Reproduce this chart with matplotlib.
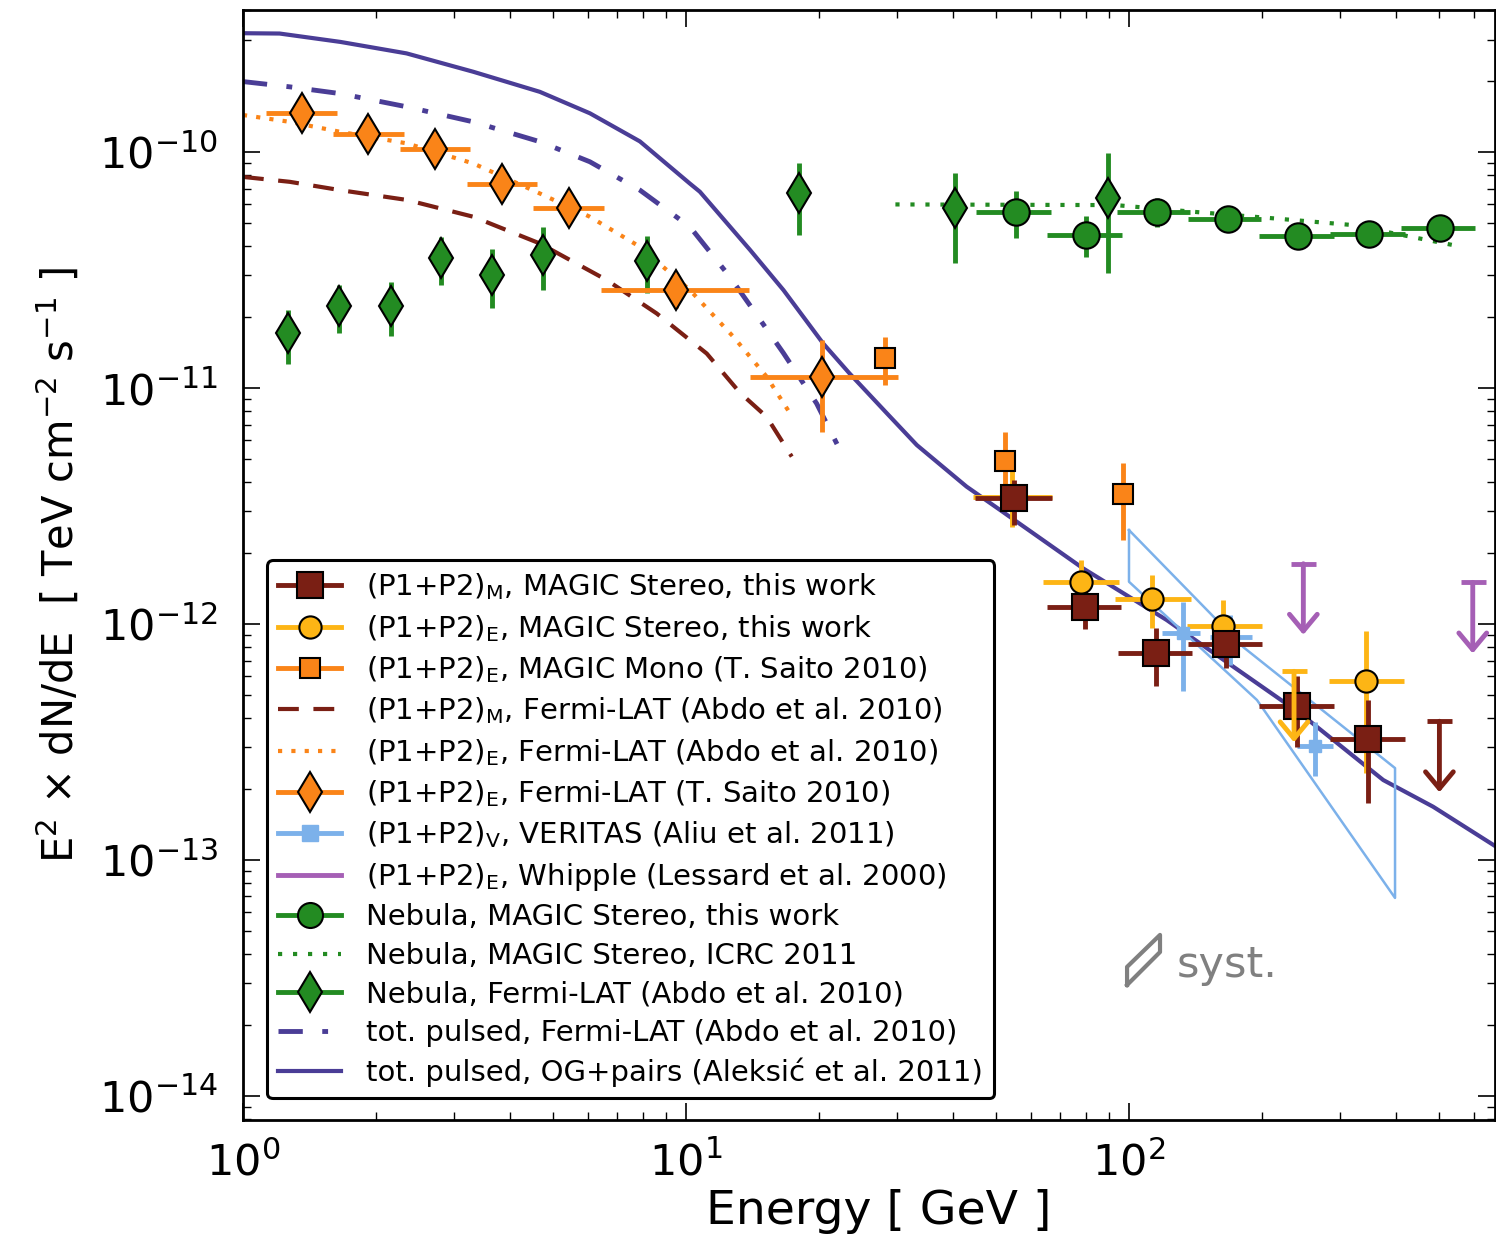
import numpy as np
import matplotlib.pyplot as plt
from matplotlib.lines import Line2D

# kolory
MAROON = '#7a1f14'
YELLOW = '#fdb515'
ORANGE = '#fa8418'
LBLUE = '#7cb1ea'
PURPLE = '#a55fb5'
GREEN = '#238b22'
NAVY = '#4a3d96'
GRAY = '#808080'

# (P1+P2)_M, MAGIC Stereo
m_e = [55.0, 79.6, 115.0, 166.0, 240.0, 347.0]
m_f = [3.42e-12, 1.18e-12, 7.5e-13, 8.2e-13, 4.5e-13, 3.24e-13]
m_elo = [44.9, 65.2, 94.3, 136.0, 196.6, 284.0]
m_ehi = [67.0, 95.8, 138.5, 200.0, 290.0, 420.0]
m_flo = [2.63e-12, 9.5e-13, 5.46e-13, 6.52e-13, 3.0e-13, 1.74e-13]
m_fhi = [4.07e-12, 1.39e-12, 9.6e-13, 9.84e-13, 6.03e-13, 4.77e-13]
m_ul_e = [502.0]
m_ul_f = [3.87e-13]

# (P1+P2)_E, MAGIC Stereo
s_e = [54.5, 77.8, 112.9, 163.3, 342.0]
s_f = [3.45e-12, 1.51e-12, 1.28e-12, 9.85e-13, 5.73e-13]
s_elo = [44.5, 64.0, 93.0, 135.0, 283.0]
s_ehi = [67.0, 95.0, 137.8, 199.4, 418.0]
s_flo = [2.58e-12, 1.26e-12, 9.6e-13, 7.76e-13, 2.33e-13]
s_fhi = [4.5e-12, 1.87e-12, 1.61e-12, 1.26e-12, 9.3e-13]
s_ul_e = [235.8]
s_ul_f = [6.3e-13]

# (P1+P2)_E, MAGIC Mono
mono_e = [28.1, 52.5, 96.9]
mono_f = [1.34e-11, 4.9e-12, 3.56e-12]
mono_flo = [1.03e-11, 3.35e-12, 2.27e-12]
mono_fhi = [1.64e-11, 6.5e-12, 4.8e-12]

# (P1+P2)_E, Fermi-LAT (T. Saito)
fs_e = [1.357, 1.918, 2.713, 3.85, 5.44, 9.48, 20.3]
fs_f = [1.47e-10, 1.19e-10, 1.03e-10, 7.3e-11, 5.81e-11, 2.6e-11, 1.11e-11]
fs_elo = [1.127, 1.60, 2.26, 3.20, 4.52, 6.42, 13.95]
fs_ehi = [1.627, 2.31, 3.26, 4.62, 6.54, 13.9, 30.1]
fs_flo = [1.40e-10, 1.13e-10, 0.98e-10, 6.9e-11, 5.5e-11, 2.18e-11, 6.5e-12]
fs_fhi = [1.54e-10, 1.25e-10, 1.08e-10, 7.7e-11, 6.1e-11, 2.9e-11, 1.6e-11]

# (P1+P2)_V, VERITAS
v_e = [132.6, 169.0, 263.0]
v_f = [9.14e-13, 8.83e-13, 3.04e-13]
v_elo = [118.6, 152.4, 239.0]
v_ehi = [144.6, 189.2, 289.0]
v_flo = [5.22e-13, 6.7e-13, 2.27e-13]
v_fhi = [1.243e-12, 1.09e-12, 3.85e-13]
# motyl VERITAS
vb_up_e = [100.0, 180.8, 398.6]
vb_up_f = [2.50e-12, 8.0e-13, 2.45e-13]
vb_lo_e = [100.0, 194.5, 398.6]
vb_lo_f = [1.51e-12, 4.76e-13, 6.9e-14]

# Whipple - gorne limity
w_ul_e = [247.5, 597.0]
w_ul_f = [1.8e-12, 1.5e-12]

# Nebula, MAGIC Stereo
n_e = [55.5, 80.1, 115.7, 167.0, 241.3, 348.4, 503.6]
n_f = [5.58e-11, 4.45e-11, 5.58e-11, 5.19e-11, 4.41e-11, 4.48e-11, 4.78e-11]
n_elo = [45.2, 65.3, 94.2, 136.2, 196.6, 284.2, 410.3]
n_ehi = [66.7, 96.2, 137.6, 198.6, 290.0, 418.8, 604.0]
n_flo = [4.31e-11, 3.6e-11, 4.83e-11, 4.67e-11, 3.91e-11, 3.97e-11, 4.31e-11]
n_fhi = [6.86e-11, 5.36e-11, 6.37e-11, 5.67e-11, 4.83e-11, 5.02e-11, 5.32e-11]

# Nebula, MAGIC Stereo ICRC 2011
icrc_e = [29.7, 93.4, 140.4, 211.4, 318.0, 431.8, 563.0]
icrc_f = [6.0e-11, 5.96e-11, 5.58e-11, 5.24e-11, 4.91e-11, 4.38e-11, 3.97e-11]

# Nebula, Fermi-LAT
nf_e = [1.266, 1.65, 2.155, 2.80, 3.65, 4.75, 8.15, 18.0, 40.4, 89.6]
nf_f = [1.71e-11, 2.23e-11, 2.23e-11, 3.56e-11, 3.0e-11, 3.68e-11, 3.47e-11, 6.68e-11, 5.77e-11, 6.40e-11]
nf_flo = [1.27e-11, 1.71e-11, 1.66e-11, 2.73e-11, 2.18e-11, 2.6e-11, 2.52e-11, 4.45e-11, 3.38e-11, 3.06e-11]
nf_fhi = [2.14e-11, 2.73e-11, 2.82e-11, 4.38e-11, 3.87e-11, 4.83e-11, 4.42e-11, 8.95e-11, 8.17e-11, 9.93e-11]

# krzywe Fermi-LAT (Abdo et al. 2010)
fm_e = [1.0, 1.276, 1.656, 2.342, 3.311, 4.677, 6.62, 8.59, 11.14, 13.24, 15.21, 17.33]
fm_f = [7.85e-11, 7.48e-11, 6.9e-11, 6.27e-11, 5.32e-11, 4.1e-11, 2.87e-11, 2.07e-11, 1.40e-11, 9.55e-12, 7.55e-12, 5.12e-12]
fe_e = [1.0, 1.276, 1.656, 2.342, 3.311, 4.677, 6.067, 7.87, 10.21, 12.79, 15.21, 17.17]
fe_f = [1.436e-10, 1.343e-10, 1.219e-10, 1.089e-10, 8.95e-11, 6.68e-11, 5.32e-11, 3.97e-11, 2.6e-11, 1.65e-11, 1.117e-11, 7.82e-12]
ft_e = [1.0, 1.276, 1.656, 2.342, 3.311, 4.677, 6.067, 7.87, 10.21, 12.56, 13.95, 16.58, 19.72, 22.27]
ft_f = [1.99e-10, 1.89e-10, 1.77e-10, 1.556e-10, 1.343e-10, 1.107e-10, 9.1e-11, 6.9e-11, 4.82e-11, 2.96e-11, 2.24e-11, 1.41e-11, 8.6e-12, 5.46e-12]

# tot. pulsed, OG+pairs
og_e = [1.0, 1.21, 1.66, 2.34, 3.31, 4.68, 6.07, 7.87, 10.2, 10.75, 13.95, 16.6, 20.4, 23.4,
        28.4, 33.2, 43.0, 51.2, 78.8, 121.6, 172.0, 243.0, 375.0, 486.0, 673.0]
og_f = [3.19e-10, 3.18e-10, 2.93e-10, 2.62e-10, 2.19e-10, 1.80e-10, 1.46e-10, 1.11e-10, 7.36e-11,
        6.79e-11, 3.85e-11, 2.60e-11, 1.545e-11, 1.153e-11, 7.82e-12, 5.73e-12, 3.82e-12, 3.04e-12,
        1.72e-12, 1.04e-12, 6.59e-13, 4.19e-13, 2.18e-13, 1.68e-13, 1.14e-13]

# ramka "syst."
syst_x = [99.0, 99.0, 117.5, 117.5, 99.0]
syst_y = [2.95e-14, 3.52e-14, 4.81e-14, 4.07e-14, 2.95e-14]

UL_FACTOR = 0.5


def err(v, lo, hi):
    v = np.array(v)
    return [v - np.array(lo), np.array(hi) - v]


def upper_limits(ax, e, f, color):
    for x, y in zip(e, f):
        ax.plot([x], [y], marker='_', ms=18, mew=3.5, color=color, zorder=6)
        ax.annotate('', xy=(x, y * UL_FACTOR), xytext=(x, y),
                    arrowprops=dict(arrowstyle='->,head_length=0.6,head_width=0.5',
                                    color=color, lw=3.5, shrinkA=0, shrinkB=0,
                                    mutation_scale=20), zorder=6)


if __name__ == "__main__":

    fig = plt.figure(figsize=(14.96, 12.38), dpi=100)
    ax = fig.add_axes([0.1624, 0.0953, 0.8369, 0.8966])
    ax.set_xscale('log')
    ax.set_yscale('log')

    # krzywe
    ax.plot(og_e, og_f, color=NAVY, lw=3, zorder=2)
    ax.plot(ft_e, ft_f, color=NAVY, lw=3.5, ls=(0, (5, 4, 1.2, 4)), zorder=2)
    ax.plot(fe_e, fe_f, color=ORANGE, lw=3, ls=(0, (1, 2.2)), zorder=2)
    ax.plot(fm_e, fm_f, color=MAROON, lw=3, ls=(0, (5, 3.5)), zorder=2)
    ax.plot(icrc_e, icrc_f, color=GREEN, lw=3, ls=(0, (1, 2.6)), zorder=2)

    # motyl VERITAS
    bx = vb_up_e + vb_lo_e[::-1] + [vb_up_e[0]]
    by = vb_up_f + vb_lo_f[::-1] + [vb_up_f[0]]
    ax.plot(bx, by, color=LBLUE, lw=1.8, zorder=2)

    ebar = dict(ls='none', capsize=0, elinewidth=3.5, mec='k', mew=1.5, zorder=4)

    ax.errorbar(nf_e, nf_f, yerr=err(nf_f, nf_flo, nf_fhi), fmt='d', ms=20,
                color=GREEN, mfc=GREEN, **ebar)
    ax.errorbar(n_e, n_f, xerr=err(n_e, n_elo, n_ehi), yerr=err(n_f, n_flo, n_fhi),
                fmt='o', ms=19, color=GREEN, mfc=GREEN, **ebar)
    ax.errorbar(fs_e, fs_f, xerr=err(fs_e, fs_elo, fs_ehi), yerr=err(fs_f, fs_flo, fs_fhi),
                fmt='d', ms=20, color=ORANGE, mfc=ORANGE, **ebar)
    ax.errorbar(mono_e, mono_f, yerr=err(mono_f, mono_flo, mono_fhi), fmt='s', ms=14,
                color=ORANGE, mfc=ORANGE, **ebar)
    ax.errorbar(v_e, v_f, xerr=err(v_e, v_elo, v_ehi), yerr=err(v_f, v_flo, v_fhi),
                fmt='s', ms=9, color=LBLUE, mfc=LBLUE, ls='none', capsize=0,
                elinewidth=3.5, mec=LBLUE, zorder=4)
    ax.errorbar(s_e, s_f, xerr=err(s_e, s_elo, s_ehi), yerr=err(s_f, s_flo, s_fhi),
                fmt='o', ms=16, color=YELLOW, mfc=YELLOW, **ebar)
    ax.errorbar(m_e, m_f, xerr=err(m_e, m_elo, m_ehi), yerr=err(m_f, m_flo, m_fhi),
                fmt='s', ms=19, color=MAROON, mfc=MAROON, **ebar)

    upper_limits(ax, s_ul_e, s_ul_f, YELLOW)
    upper_limits(ax, m_ul_e, m_ul_f, MAROON)
    upper_limits(ax, w_ul_e, w_ul_f, PURPLE)

    # syst.
    ax.plot(syst_x, syst_y, color=GRAY, lw=3, zorder=3)
    ax.text(128, 3.6e-14, 'syst.', color=GRAY, fontsize=31, va='center', ha='left')

    # legenda
    handles = [
        Line2D([], [], color=MAROON, lw=3.5, marker='s', ms=19, mfc=MAROON, mec='k', mew=1.5),
        Line2D([], [], color=YELLOW, lw=3.5, marker='o', ms=16, mfc=YELLOW, mec='k', mew=1.5),
        Line2D([], [], color=ORANGE, lw=3.5, marker='s', ms=14, mfc=ORANGE, mec='k', mew=1.5),
        Line2D([], [], color=MAROON, lw=3, ls=(0, (5, 3.5))),
        Line2D([], [], color=ORANGE, lw=3, ls=(0, (1, 2.2))),
        Line2D([], [], color=ORANGE, lw=3.5, marker='d', ms=20, mfc=ORANGE, mec='k', mew=1.5),
        Line2D([], [], color=LBLUE, lw=3.5, marker='s', ms=11, mfc=LBLUE, mec=LBLUE),
        Line2D([], [], color=PURPLE, lw=3.5),
        Line2D([], [], color=GREEN, lw=3.5, marker='o', ms=18, mfc=GREEN, mec='k', mew=1.5),
        Line2D([], [], color=GREEN, lw=3, ls=(0, (1, 2.6))),
        Line2D([], [], color=GREEN, lw=3.5, marker='d', ms=20, mfc=GREEN, mec='k', mew=1.5),
        Line2D([], [], color=NAVY, lw=3.5, ls=(0, (5, 4, 1.2, 4))),
        Line2D([], [], color=NAVY, lw=3),
    ]
    labels = [
        r'(P1+P2)$_\mathregular{M}$, MAGIC Stereo, this work',
        r'(P1+P2)$_\mathregular{E}$, MAGIC Stereo, this work',
        r'(P1+P2)$_\mathregular{E}$, MAGIC Mono (T. Saito 2010)',
        r'(P1+P2)$_\mathregular{M}$, Fermi-LAT (Abdo et al. 2010)',
        r'(P1+P2)$_\mathregular{E}$, Fermi-LAT (Abdo et al. 2010)',
        r'(P1+P2)$_\mathregular{E}$, Fermi-LAT (T. Saito 2010)',
        r'(P1+P2)$_\mathregular{V}$, VERITAS (Aliu et al. 2011)',
        r'(P1+P2)$_\mathregular{E}$, Whipple (Lessard et al. 2000)',
        'Nebula, MAGIC Stereo, this work',
        'Nebula, MAGIC Stereo, ICRC 2011',
        'Nebula, Fermi-LAT (Abdo et al. 2010)',
        'tot. pulsed, Fermi-LAT (Abdo et al. 2010)',
        'tot. pulsed, OG+pairs (Aleksić et al. 2011)',
    ]
    leg = ax.legend(handles, labels, loc='upper left', bbox_to_anchor=(0.019, 0.5045),
                    borderaxespad=0, fontsize=21, handlelength=2.15, labelspacing=0.36,
                    borderpad=0.4, handletextpad=0.85, fancybox=True, framealpha=1.0)
    leg.get_frame().set_edgecolor('k')
    leg.get_frame().set_linewidth(2.2)

    ax.set_xlim(1, 670)
    ax.set_ylim(7.9e-15, 4.0e-10)
    ax.set_xticks([1, 10, 100])
    ax.set_yticks([1e-14, 1e-13, 1e-12, 1e-11, 1e-10])
    for s in ax.spines.values():
        s.set_linewidth(2)
    ax.tick_params(which='both', direction='in', top=True, right=True)
    ax.tick_params(which='major', length=12, width=1.2, labelsize=31)
    ax.tick_params(which='minor', length=6, width=1)
    ax.tick_params(axis='y', which='major', pad=18)
    ax.tick_params(axis='x', which='major', pad=16)

    ax.set_xlabel('Energy [ GeV ]', fontsize=34)
    ax.xaxis.set_label_coords(0.508, -0.062)
    ax.set_ylabel(r'E$^2$ $\times$ dN/dE  [ TeV cm$^{-2}$ s$^{-1}$ ]', fontsize=30, labelpad=12)

    fig.savefig('out.png', dpi=100)
